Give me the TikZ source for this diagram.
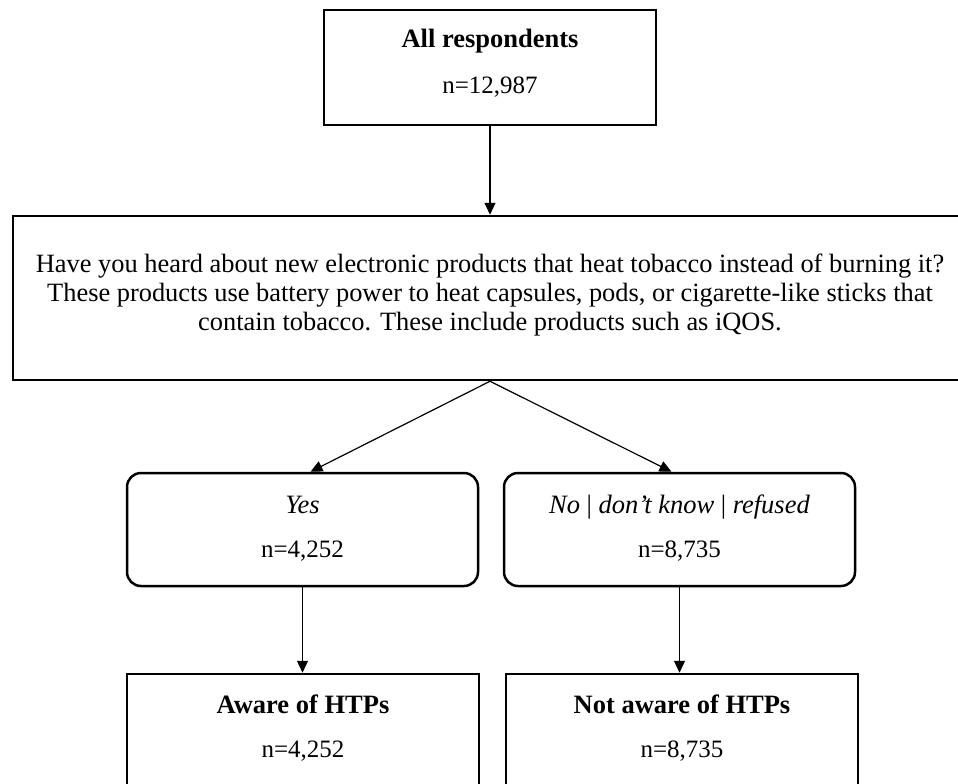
\documentclass[tikz,border=0pt]{standalone}
\usepackage{fontspec}
\setmainfont{Liberation Serif}
\usetikzlibrary{arrows.meta}

\tikzset{box/.style={draw, line width=2.5pt, rectangle}}
\tikzset{rbox/.style={box, rounded corners=14pt}}
\tikzset{head/.style={anchor=base, inner sep=0pt, font=\fontsize{26.5}{30}\selectfont}}
\tikzset{num/.style={anchor=base, inner sep=0pt, font=\fontsize{25}{30}\selectfont}}
\tikzset{arr/.style={-{Triangle[length=12pt,width=11pt]}, line width=1.2pt}}

\begin{document}
\begin{tikzpicture}[x=1pt, y=-1pt]
\useasboundingbox (0,0) rectangle (958,784);
\clip (0,0) rectangle (958,784);
% boxes
\node[box, minimum width=332pt, minimum height=115pt] (all) at (490,67.5) {};
\node[box, minimum width=954pt, minimum height=164pt] (quest) at (490,298) {};
\node[rbox, minimum width=351pt, minimum height=113pt] (yes) at (302.5,529.5) {};
\node[rbox, minimum width=351pt, minimum height=113pt] (no) at (679.5,529.5) {};
\node[box, minimum width=352pt, minimum height=150pt] (aware) at (303,749) {};
\node[box, minimum width=352pt, minimum height=150pt] (naware) at (682,749) {};
% texts
\node[head] (allhead) at (490,48) {\textbf{All respondents}};
\node[num] (alln) at (490,93) {n=12,987};
\node[align=center, inner sep=0pt, font=\fontsize{26.4}{28.8}\selectfont] (questtxt) at (490,295)
  {Have you heard about new electronic products that heat tobacco instead of burning it?\\
   These products use battery power to heat capsules, pods, or cigarette-like sticks that\\
   contain tobacco. These include products such as iQOS.};
\node[head] (yeshead) at (302.5,513) {\textit{Yes}};
\node[num] (yesn) at (302.5,557) {n=4,252};
\node[head] (nohead) at (679.5,513) {\textit{No} | \textit{don’t know} | \textit{refused}};
\node[num] (non) at (679.5,557) {n=8,735};
\node[head] (awarehead) at (303,713) {\textbf{Aware of HTPs}};
\node[num] (awaren) at (303,757) {n=4,252};
\node[head] (nawarehead) at (682,713) {\textbf{Not aware of HTPs}};
\node[num] (nawaren) at (682,757) {n=8,735};
% arrows
\draw[arr] (all.south) -- (quest.north);
\draw[arr] (quest.south) -- ([xshift=8pt]yes.north);
\draw[arr] (quest.south) -- ([xshift=-8pt]no.north);
\draw[arr] (yes.south) -- (yes.south |- aware.north);
\draw[arr] (no.south) -- (no.south |- naware.north);
\end{tikzpicture}
\end{document}
